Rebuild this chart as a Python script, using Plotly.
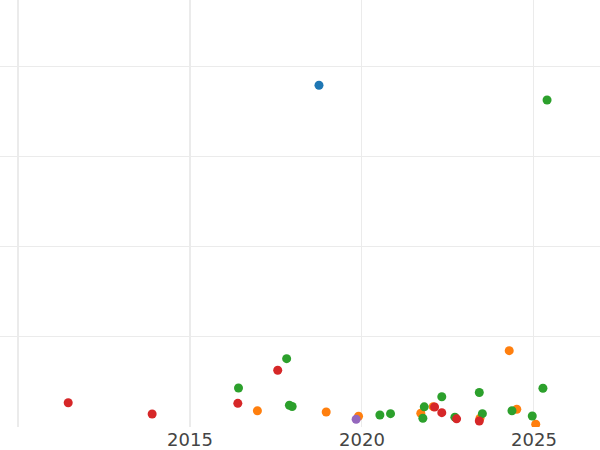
import plotly.graph_objects as go

# Data (x = year, y = value; grid spacing = 100)
blue_x = [2018.75]
blue_y = [379.7]

orange_x = [2016.96, 2018.96, 2019.90, 2021.71, 2022.07, 2023.43, 2024.28, 2024.50, 2025.05]
orange_y = [18.1, 16.7, 11.9, 15.3, 22.6, 9.7, 84.8, 19.7, 3.0]

green_x = [2016.41, 2017.81, 2017.89, 2017.97, 2020.52, 2020.83, 2021.81, 2021.77, 2022.32,
           2022.70, 2023.41, 2023.50, 2024.36, 2024.95, 2025.26, 2025.38]
green_y = [43.3, 75.9, 24.2, 22.8, 13.3, 14.8, 22.4, 9.7, 33.6,
           10.9, 38.3, 14.8, 18.1, 12.2, 43.0, 363.3]

red_x = [2011.46, 2013.90, 2016.39, 2017.55, 2022.11, 2022.32, 2022.75, 2023.41]
red_y = [27.0, 14.4, 26.3, 63.0, 22.2, 15.9, 9.1, 6.7]

purple_x = [2019.83]
purple_y = [8.6]

tick_vals = [2010, 2015, 2020, 2025]
tick_text = ["", "2015", "2020", "2025"]

series = [
    (blue_x, blue_y, "#1f77b4"),
    (orange_x, orange_y, "#ff7f0e"),
    (green_x, green_y, "#2ca02c"),
    (red_x, red_y, "#d62728"),
    (purple_x, purple_y, "#9467bd"),
]

fig = go.Figure()
for xs, ys, col in series:
    fig.add_trace(go.Scatter(x=xs, y=ys, mode="markers",
                             marker=dict(size=9, color=col),
                             showlegend=False))

for v in [2010, 2015]:
    fig.add_shape(type="line", xref="x", yref="paper", x0=v, x1=v, y0=0, y1=1,
                  line=dict(color="#ebebeb", width=2), layer="below")

fig.update_layout(
    width=600, height=450,
    margin=dict(l=0, r=0, t=0, b=23),
    paper_bgcolor="white", plot_bgcolor="white",
    font=dict(family="DejaVu Sans", size=18, color="#444"),
    xaxis=dict(range=[2009.477, 2026.919], tickvals=tick_vals, ticktext=tick_text,
               showgrid=True, gridcolor="#ebebeb", gridwidth=1, zeroline=False,
               showline=False, ticks=""),
    yaxis=dict(range=[0, 474.4], dtick=100, showticklabels=False,
               showgrid=True, gridcolor="#ebebeb", gridwidth=1, zeroline=False,
               showline=False),
)

fig.write_html("out.html",
               config={"displayModeBar": False},
               post_script="document.body.style.margin='0px';"
                           "document.body.style.overflow='hidden';")
